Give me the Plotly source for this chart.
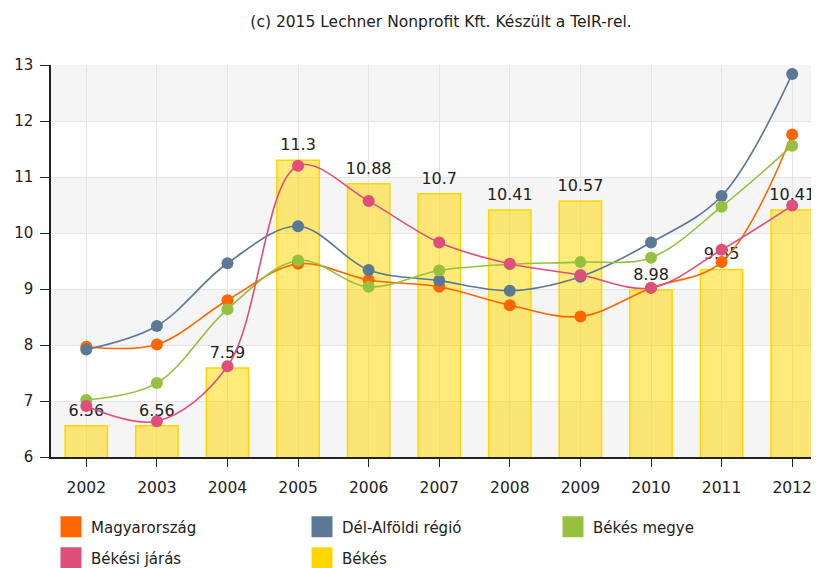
import plotly.graph_objects as go

years = ["2002", "2003", "2004", "2005", "2006", "2007", "2008", "2009", "2010", "2011", "2012"]
magyarorszag = [7.97, 8.01, 8.80, 9.45, 9.16, 9.04, 8.71, 8.51, 9.02, 9.48, 11.76]
del_alfoldi = [7.92, 8.34, 9.46, 10.12, 9.34, 9.15, 8.97, 9.22, 9.83, 10.66, 12.84]
bekes_megye = [7.02, 7.32, 8.64, 9.51, 9.04, 9.33, 9.44, 9.48, 9.56, 10.47, 11.56]
bekesi_jaras = [6.91, 6.64, 7.62, 11.20, 10.57, 9.83, 9.45, 9.25, 9.02, 9.70, 10.49]
bekes = [6.56, 6.56, 7.59, 11.3, 10.88, 10.7, 10.41, 10.57, 8.98, 9.35, 10.41]
y_ticks = [6, 7, 8, 9, 10, 11, 12, 13]

FONT = "DejaVu Sans"
TXT = "#222222"
W, H = 811, 560  # page body has an 8px margin inside the 819x568 window
fig = go.Figure()

fig.add_trace(go.Bar(
    x=years, y=bekes, name="Békés", width=0.6,
    marker=dict(color="rgba(255,214,0,0.52)", line=dict(color="#FFD600", width=1.5)),
    showlegend=False, hoverinfo="skip",
))

# value labels above the bars (drawn beneath the lines)
fig.add_trace(go.Scatter(
    x=years, y=bekes, mode="markers+text", text=[f"{v:g}" for v in bekes],
    textposition="top center", textfont=dict(family=FONT, size=16, color=TXT),
    marker=dict(size=8, opacity=0), showlegend=False, cliponaxis=False, hoverinfo="skip",
))

lines = [
    ("Magyarország", magyarorszag, "#FF6600"),
    ("Dél-Alföldi régió", del_alfoldi, "#5B7896"),
    ("Békés megye", bekes_megye, "#95C13E"),
    ("Békési járás", bekesi_jaras, "#E04F7B"),
]
for name, vals, col in lines:
    fig.add_trace(go.Scatter(
        x=years, y=vals, name=name, mode="lines+markers",
        line=dict(color=col, width=1.6, shape="spline", smoothing=1.0),
        marker=dict(color=col, size=12), showlegend=False, cliponaxis=False,
    ))

legend_items = [
    ("Magyarország", "#FF6600", "legend"),
    ("Dél-Alföldi régió", "#5B7896", "legend"),
    ("Békés megye", "#95C13E", "legend"),
    ("Békési járás", "#E04F7B", "legend2"),
    ("Békés", "#FFD600", "legend2"),
]
for name, col, lg in legend_items:
    fig.add_trace(go.Scatter(
        x=[None], y=[None], name=name, mode="markers",
        marker=dict(color=col, size=16, symbol="square", line=dict(color=col, width=5)),
        legend=lg, showlegend=True,
    ))

shapes = []
for i in range(0, len(y_ticks) - 1, 2):
    shapes.append(dict(type="rect", xref="paper", x0=0, x1=1, yref="y",
                       y0=y_ticks[i], y1=y_ticks[i + 1], fillcolor="#F5F5F5",
                       line=dict(width=0), layer="below"))

legend_common = dict(orientation="h", xref="container", yref="container",
                     xanchor="left", yanchor="middle", entrywidth=206, entrywidthmode="pixels",
                     font=dict(family=FONT, size=15, color=TXT), bgcolor="rgba(0,0,0,0)",
                     itemsizing="trace")

fig.update_layout(
    width=W, height=H,
    margin=dict(l=43, r=0, t=57, b=111, autoexpand=False),
    paper_bgcolor="white", plot_bgcolor="white",
    shapes=shapes,
    title=dict(text="(c) 2015 Lechner Nonprofit Kft. Készült a TeIR-rel.",
               x=433 / W, xanchor="center", y=1 - 14 / H, yanchor="middle",
               font=dict(family=FONT, size=15.5, color=TXT)),
    xaxis=dict(type="category", range=[-0.5, 10.38], showgrid=True, gridcolor="#E4E4E4",
               showline=True, linecolor="#222", linewidth=1.5, ticks="outside", ticklen=8,
               tickcolor="#222", ticklabelstandoff=8,
               tickfont=dict(family=FONT, size=15.5, color=TXT), zeroline=False),
    yaxis=dict(range=[6, 13], tickvals=y_ticks, showgrid=True, gridcolor="#E4E4E4",
               showline=True, linecolor="#222", linewidth=1.5, ticks="outside", ticklen=9,
               tickcolor="#222", ticklabelstandoff=4,
               tickfont=dict(family=FONT, size=15, color=TXT), zeroline=False),
    legend=dict(x=43 / W, y=1 - 519 / H, **legend_common),
    legend2=dict(x=43 / W, y=1 - 550 / H, **legend_common),
)

fig.write_html("out.html")
